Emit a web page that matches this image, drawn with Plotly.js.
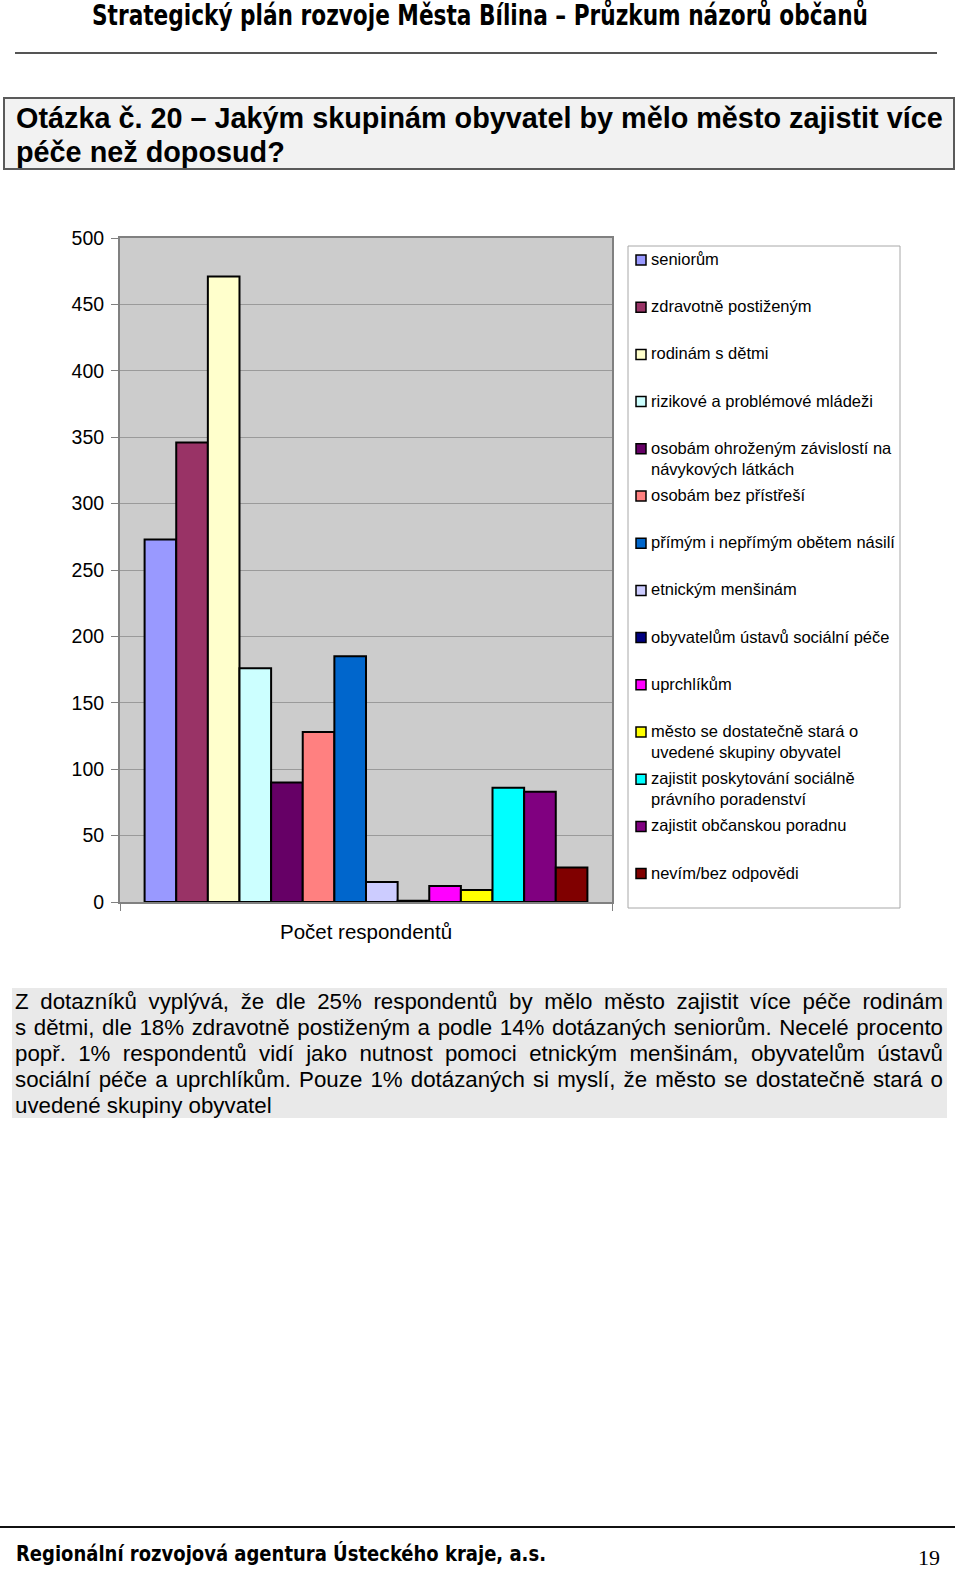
<!DOCTYPE html>
<html>
<head>
<meta charset="utf-8">
<script src="https://cdn.plot.ly/plotly-3.0.1.min.js"></script>
<style>
  html, body { margin: 0; padding: 0; background: #fff; }
  #page { position: relative; width: 960px; height: 1570px; overflow: hidden;
          font-family: "Liberation Sans", Arial, sans-serif; color: #000; }
  .fit { position: absolute; white-space: nowrap; transform-origin: 0 0; }
  #hdr { top: 1px; left: 92px; font-family: "DejaVu Sans Condensed", "DejaVu Sans", sans-serif;
         font-weight: bold; font-size: 28px; line-height: 30px; }
  #hrule { position: absolute; left: 15px; top: 52px; width: 922px; height: 2px; background: #555; }
  #qbox { position: absolute; left: 3px; top: 97px; width: 948px; height: 69px;
          border: 2px solid #5A5A5A; background: #F2F2F2; }
  .ql { position: absolute; left: 11px; white-space: nowrap; font-size: 28.8px; font-weight: bold; line-height: 34px; }
  #chart { position: absolute; left: 0; top: 200px; width: 960px; height: 780px; }
  #para { position: absolute; left: 12px; top: 988px; width: 935px; height: 130px; background: #E9E9E9; }
  .pl { position: absolute; left: 3px; width: 928px; font-size: 22.3px; line-height: 26px;
        text-align: justify; text-align-last: justify; white-space: nowrap; }
  .pl.last { text-align-last: left; }
  #frule { position: absolute; left: 0; top: 1526px; width: 955px; height: 2px; background: #111; }
  #ftr { top: 1540px; left: 16px; font-family: "DejaVu Sans Condensed", "DejaVu Sans", sans-serif;
         font-weight: bold; font-size: 22px; line-height: 28px; }
  #pg { position: absolute; left: 918px; top: 1547px; height: 22px; font-family: "Liberation Serif", "Times New Roman", serif;
        font-size: 22px; line-height: 22px; }
</style>
</head>
<body>
<div id="page">
  <div id="hdr" class="fit" data-w="776">Strategický plán rozvoje Města Bílina – Průzkum názorů občanů</div>
  <div id="hrule"></div>
  <div id="qbox">
    <div class="ql" style="top:2px">Otázka č. 20 – Jakým skupinám obyvatel by mělo město zajistit více</div>
    <div class="ql" style="top:36px">péče než doposud?</div>
  </div>
  <div id="chart"></div>
  <div id="para">
    <div class="pl" style="top:1px">Z dotazníků vyplývá, že dle 25% respondentů by mělo město zajistit více péče rodinám</div>
    <div class="pl" style="top:27px">s dětmi, dle 18% zdravotně postiženým a podle 14% dotázaných seniorům. Necelé procento</div>
    <div class="pl" style="top:53px">popř. 1% respondentů vidí jako nutnost pomoci etnickým menšinám, obyvatelům ústavů</div>
    <div class="pl" style="top:79px">sociální péče a uprchlíkům. Pouze 1% dotázaných si myslí, že město se dostatečně stará o</div>
    <div class="pl last" style="top:105px">uvedené skupiny obyvatel</div>
  </div>
  <div id="frule"></div>
  <div id="ftr" class="fit" data-w="530">Regionální rozvojová agentura Ústeckého kraje, a.s.</div>
  <div id="pg">19</div>
</div>
<script>
// ---- data ----
const categories = [
  "seniorům",
  "zdravotně postiženým",
  "rodinám s dětmi",
  "rizikové a problémové mládeži",
  "osobám ohroženým závislostí na návykových látkách",
  "osobám bez přístřeší",
  "přímým i nepřímým obětem násilí",
  "etnickým menšinám",
  "obyvatelům ústavů sociální péče",
  "uprchlíkům",
  "město se dostatečně stará o uvedené skupiny obyvatel",
  "zajistit poskytování sociálně právního poradenství",
  "zajistit občanskou poradnu",
  "nevím/bez odpovědi"
];
const legendLabels = [
  "seniorům",
  "zdravotně postiženým",
  "rodinám s dětmi",
  "rizikové a problémové mládeži",
  "osobám ohroženým závislostí na<br>návykových látkách",
  "osobám bez přístřeší",
  "přímým i nepřímým obětem násilí",
  "etnickým menšinám",
  "obyvatelům ústavů sociální péče",
  "uprchlíkům",
  "město se dostatečně stará o<br>uvedené skupiny obyvatel",
  "zajistit poskytování sociálně<br>právního poradenství",
  "zajistit občanskou poradnu",
  "nevím/bez odpovědi"
];
const counts = [273, 346, 471, 176, 90, 128, 185, 15, 1, 12, 9, 86, 83, 26];
const colors = ["#9999FF", "#993366", "#FFFFCC", "#CCFFFF", "#660066", "#FF8080", "#0066CC",
                "#CCCCFF", "#000080", "#FF00FF", "#FFFF00", "#00FFFF", "#800080", "#800000"];
const groupLabel = "Počet respondentů";

// ---- fit decorative header/footer text to width ----
document.querySelectorAll('.fit').forEach(el => {
  const w = el.getBoundingClientRect().width;
  const target = parseFloat(el.dataset.w);
  el.style.transform = 'scaleX(' + (target / w) + ')';
});

// ---- chart ----
const FONT = "Liberation Sans, Arial, sans-serif";
const traces = categories.map((c, i) => ({
  type: 'bar',
  name: c,
  x: [groupLabel],
  y: [counts[i]],
  marker: { color: colors[i], line: { color: '#000', width: 2 } },
  hoverinfo: 'name+y'
}));

// plot area in page px: x 120..612, y 238..902 (div top = 200)
const PL = 120, PR = 612, PT = 238, PB = 902;
const px2x = p => (p - PL) / (PR - PL);
const py2y = p => (PB - p) / (PB - PT);

const legTop = 260, legStep = 47.2;
const shapes = [{
  type: 'rect', xref: 'paper', yref: 'paper',
  x0: px2x(628), x1: px2x(900), y0: py2y(908), y1: py2y(246),
  fillcolor: '#fff', line: { color: '#A8A8A8', width: 1 }, layer: 'below'
}];
const annotations = [];
legendLabels.forEach((lab, i) => {
  const cy = legTop + i * legStep;
  shapes.push({
    type: 'rect', xref: 'paper', yref: 'paper',
    x0: px2x(636), x1: px2x(646), y0: py2y(cy + 5), y1: py2y(cy - 5),
    fillcolor: colors[i], line: { color: '#000', width: 1.5 }
  });
  annotations.push({
    xref: 'paper', yref: 'paper', x: px2x(649), y: py2y(cy - 12),
    xanchor: 'left', yanchor: 'top', align: 'left', showarrow: false,
    text: lab, font: { family: FONT, size: 16.5, color: '#000' }
  });
});

const layout = {
  width: 960, height: 780,
  margin: { l: PL, r: 960 - PR, t: PT - 200, b: 780 - (PB - 200) },
  paper_bgcolor: 'rgba(0,0,0,0)',
  plot_bgcolor: '#CCCCCC',
  barmode: 'group', bargap: 0.1, bargroupgap: 0,
  showlegend: false,
  font: { family: FONT, size: 19, color: '#000' },
  xaxis: {
    type: 'category', showline: true, linecolor: '#808080', linewidth: 2, mirror: true,
    ticks: 'outside', tickson: 'boundaries', ticklen: 7, tickcolor: '#808080', tickwidth: 1,
    ticklabelstandoff: 10, tickfont: { family: FONT, size: 20.5, color: '#000' }, showgrid: false
  },
  yaxis: {
    range: [0, 500], tick0: 0, dtick: 50, showgrid: true, gridcolor: '#9A9A9A', gridwidth: 1,
    showline: true, linecolor: '#808080', linewidth: 2, mirror: true, zeroline: false,
    ticks: 'outside', ticklen: 7, tickcolor: '#808080', tickwidth: 1,
    ticklabelstandoff: 3, tickfont: { family: FONT, size: 19.5, color: '#000' }
  },
  shapes: shapes,
  annotations: annotations
};

Plotly.newPlot('chart', traces, layout, { displayModeBar: false, staticPlot: true });
</script>
</body>
</html>
